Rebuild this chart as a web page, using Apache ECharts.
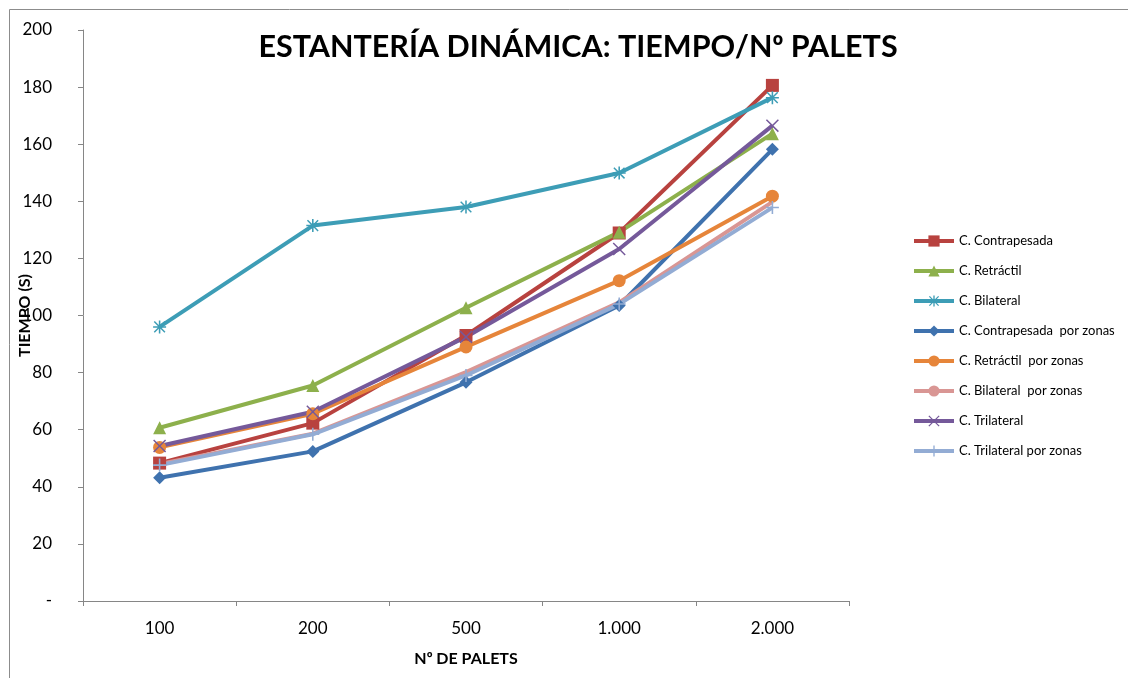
<!DOCTYPE html>
<html>
<head>
<meta charset="utf-8">
<script src="https://cdn.jsdelivr.net/npm/echarts@6/dist/echarts.min.js"></script>
<style>
  html, body { margin: 0; padding: 0; background: #fff; }
  #chart { width: 1128px; height: 678px; }
</style>
</head>
<body>
<div id="chart"></div>
<script>
// Pallet counts on the category axis
const palets = ['100', '200', '500', '1.000', '2.000'];

// Time (s) per handling equipment type
const contrapesada      = [48.3, 62.3, 93.0, 128.9, 180.6];
const retractil         = [60.7, 75.5, 102.7, 129.2, 163.7];
const bilateral         = [96.0, 131.5, 138.0, 149.9, 176.3];
const contrapesadaZonas = [43.2, 52.4, 76.6, 103.5, 158.2];
const retractilZonas    = [53.8, 65.6, 89.0, 112.2, 141.8];
const bilateralZonas    = [48.0, 58.6, 80.2, 104.6, 139.8];
const trilateral        = [54.3, 66.3, 92.5, 123.3, 166.5];
const trilateralZonas   = [47.6, 58.4, 79.0, 104.0, 137.8];

const yTicks = [0, 20, 40, 60, 80, 100, 120, 140, 160, 180, 200];

// Custom marker outlines drawn as thin filled shapes
const plusPath = 'path://M4.4,0H5.6V4.4H10V5.6H5.6V10H4.4V5.6H0V4.4H4.4Z';
const crossPath = 'path://M0,0.8L0.8,0L10,9.2L9.2,10ZM9.2,0L10,0.8L0.8,10L0,9.2Z';
const starPath = 'path://M4.4,0H5.6V4.4H10V5.6H5.6V10H4.4V5.6H0V4.4H4.4ZM0.5,1.3L1.3,0.5L9.5,8.7L8.7,9.5ZM8.7,0.5L9.5,1.3L1.3,9.5L0.5,8.7Z';

const FONT = 'Lato, "Open Sans", sans-serif';
const AXIS_GREY = '#868686';

function lineSeries(name, data, color, symbol, size) {
  return {
    name: name,
    type: 'line',
    data: data,
    symbol: symbol,
    symbolSize: size,
    showSymbol: symbol !== 'none',
    lineStyle: { color: color, width: 4 },
    itemStyle: { color: color },
    emphasis: { disabled: true },
    animation: false
  };
}

const chart = echarts.init(document.getElementById('chart'), null, { renderer: 'canvas' });

chart.setOption({
  backgroundColor: '#ffffff',
  textStyle: { fontFamily: FONT },
  title: {
    text: 'ESTANTERÍA DINÁMICA: TIEMPO/N{o|º} PALETS',
    left: 573,
    textAlign: 'center',
    top: 27,
    textStyle: {
      fontFamily: FONT, fontSize: 30.5, fontWeight: 'bold', color: '#000',
      rich: { o: { fontFamily: '"Open Sans"', fontSize: 28, fontWeight: 'bold', color: '#000' } }
    }
  },
  graphic: [{
    type: 'rect',
    shape: { x: 9.5, y: 9.5, width: 1200, height: 700 },
    style: { fill: 'none', stroke: '#8c8c8c', lineWidth: 1 },
    silent: true
  }],
  legend: {
    orient: 'vertical',
    left: 912,
    top: 234,
    padding: 0,
    itemWidth: 40,
    itemHeight: 14,
    itemGap: 16,
    lineStyle: { width: 4 },
    textStyle: { fontFamily: FONT, fontSize: 13, lineHeight: 14, color: '#000' },
    data: [
      'C. Contrapesada', 'C. Retráctil', 'C. Bilateral', 'C. Contrapesada  por zonas',
      'C. Retráctil  por zonas', 'C. Bilateral  por zonas', 'C. Trilateral', 'C. Trilateral por zonas'
    ]
  },
  grid: { left: 83, right: 279, top: 30, bottom: 77, containLabel: false, outerBoundsMode: 'none' },
  xAxis: {
    type: 'category',
    data: palets,
    boundaryGap: true,
    name: 'N{o|º} DE PALETS',
    nameLocation: 'middle',
    nameGap: 50,
    nameMoveOverlap: false,
    nameTextStyle: {
      fontFamily: FONT, fontSize: 16, fontWeight: 'bold', color: '#000', verticalAlign: 'top',
      rich: { o: { fontFamily: '"Open Sans"', fontSize: 15, fontWeight: 'bold', color: '#000' } }
    },
    axisLine: { lineStyle: { color: AXIS_GREY, width: 1 } },
    axisTick: { show: true, inside: false, length: 5, interval: 0, lineStyle: { color: AXIS_GREY } },
    axisLabel: { fontFamily: FONT, fontSize: 17, color: '#000', margin: 19 },
    splitLine: { show: false }
  },
  yAxis: {
    type: 'value',
    min: yTicks[0],
    max: yTicks[yTicks.length - 1],
    interval: yTicks[1] - yTicks[0],
    name: 'TIEMPO (S)',
    nameLocation: 'middle',
    nameGap: 50,
    nameMoveOverlap: false,
    nameTextStyle: { fontFamily: FONT, fontSize: 16, fontWeight: 'bold', color: '#000' },
    axisLine: { show: true, lineStyle: { color: AXIS_GREY, width: 1 } },
    axisTick: { show: true, inside: false, length: 5, lineStyle: { color: AXIS_GREY } },
    axisLabel: {
      fontFamily: FONT, fontSize: 17, color: '#000', margin: 31,
      formatter: v => (v === 0 ? '-' : String(v))
    },
    splitLine: { show: false }
  },
  series: [
    lineSeries('C. Contrapesada', contrapesada, '#B8423F', 'rect', 13),
    lineSeries('C. Retráctil', retractil, '#8DB04C', 'triangle', 13),
    lineSeries('C. Bilateral', bilateral, '#3D9DB6', starPath, 13),
    lineSeries('C. Contrapesada  por zonas', contrapesadaZonas, '#3F72AE', 'diamond', 13),
    lineSeries('C. Retráctil  por zonas', retractilZonas, '#E6853A', 'circle', 13),
    lineSeries('C. Bilateral  por zonas', bilateralZonas, '#D99694', 'none', 0),
    lineSeries('C. Trilateral', trilateral, '#75599A', crossPath, 13),
    lineSeries('C. Trilateral por zonas', trilateralZonas, '#93ACD4', plusPath, 13)
  ]
});
</script>
</body>
</html>
